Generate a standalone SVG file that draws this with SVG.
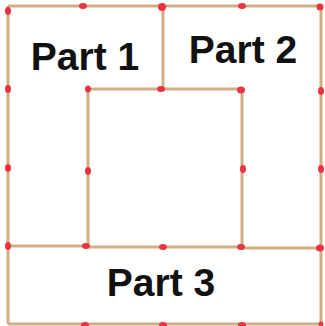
<svg xmlns="http://www.w3.org/2000/svg" width="325" height="326" viewBox="0 0 325 326">
<style>
.m{stroke:#cfae84;stroke-width:3;stroke-linecap:butt;fill:none}
.h{fill:#ec3340}
.t{font-family:"Liberation Sans",Arial,sans-serif;font-weight:bold;font-size:39px;fill:#111;text-anchor:middle}
</style>
<rect width="325" height="326" fill="#fff"/>
<g id="matches">
<line class="m" x1="8" y1="6" x2="321" y2="6"/>
<line class="m" x1="8" y1="6" x2="8" y2="324"/>
<line class="m" x1="321" y1="6" x2="321" y2="324"/>
<line class="m" x1="8" y1="324" x2="321" y2="324"/>
<line class="m" x1="163" y1="6" x2="163" y2="89"/>
<line class="m" x1="88" y1="89" x2="242" y2="89"/>
<line class="m" x1="88" y1="89" x2="88" y2="247"/>
<line class="m" x1="242" y1="89" x2="242" y2="247"/>
<line class="m" x1="8" y1="246" x2="88" y2="246"/>
<line class="m" x1="88" y1="247" x2="242" y2="247"/>
<line class="m" x1="242" y1="248" x2="321" y2="248"/>
</g>
<g id="heads">
<ellipse class="h" cx="83" cy="6" rx="4" ry="3"/>
<ellipse class="h" cx="162" cy="7" rx="4" ry="4"/>
<ellipse class="h" cx="242" cy="6" rx="4" ry="3"/>
<ellipse class="h" cx="320" cy="7" rx="3.5" ry="3.5"/>
<ellipse class="h" cx="8" cy="11" rx="3" ry="4"/>
<ellipse class="h" cx="8" cy="89" rx="3" ry="4"/>
<ellipse class="h" cx="8" cy="168" rx="3" ry="4"/>
<ellipse class="h" cx="8" cy="246" rx="3" ry="4"/>
<ellipse class="h" cx="88" cy="89" rx="3" ry="3.5"/>
<ellipse class="h" cx="161" cy="89" rx="4" ry="3"/>
<ellipse class="h" cx="241" cy="90" rx="4" ry="3.5"/>
<ellipse class="h" cx="321" cy="91" rx="3" ry="4"/>
<ellipse class="h" cx="88" cy="171" rx="3" ry="4"/>
<ellipse class="h" cx="243" cy="169" rx="3" ry="4"/>
<ellipse class="h" cx="321" cy="169" rx="3" ry="4"/>
<ellipse class="h" cx="86" cy="246" rx="4" ry="3"/>
<ellipse class="h" cx="163" cy="247" rx="4" ry="3"/>
<ellipse class="h" cx="241" cy="247" rx="4" ry="3"/>
<ellipse class="h" cx="320" cy="248" rx="4" ry="3.5"/>
<ellipse class="h" cx="85" cy="325" rx="4" ry="3"/>
<ellipse class="h" cx="163" cy="325" rx="4" ry="3"/>
<ellipse class="h" cx="242" cy="325" rx="4" ry="3"/>
<ellipse class="h" cx="321" cy="324" rx="2.5" ry="2.5"/>
</g>
<g id="part1"><text class="t" x="85" y="70">Part 1</text></g>
<g id="part2"><text class="t" x="243" y="63">Part 2</text></g>
<g id="part3"><text class="t" x="161" y="296">Part 3</text></g>
</svg>
